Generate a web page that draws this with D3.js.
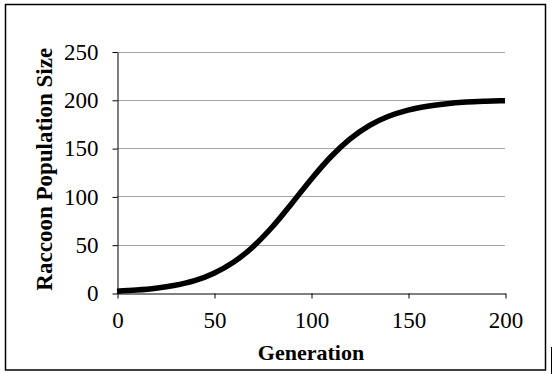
<!DOCTYPE html>
<html>
<head>
<meta charset="utf-8">
<script src="https://cdn.jsdelivr.net/npm/d3@7"></script>
<style>
	body { margin: 0; background: #fff; }
	svg { display: block; }
</style>
</head>
<body>
<div id="container"></div>
<script>
	var WIDTH = 553;
	var HEIGHT = 374;

	// generation (x) and raccoon population size (y)
	var generations = [0, 10, 20, 30, 40, 50, 60, 70, 80, 90, 100,
		110, 120, 130, 140, 150, 160, 170, 180, 190, 200];
	var population = [1.8, 3, 4.9, 8, 12.8, 20.5, 31.8, 47.7, 68.3, 92.5, 117.6,
		140.5, 159.2, 173.3, 182.9, 189.4, 193.4, 196, 197.6, 198.5, 199.1];

	var xTicks = [0, 50, 100, 150, 200];
	var yTicks = [0, 50, 100, 150, 200, 250];

	// plot area (window.top is taken, so no "top" here)
	var plotLeft = 117, plotRight = 505, plotTop = 51.5, plotBottom = 293;

	var svg = d3.select('#container')
		.append('svg')
		.attr('width', WIDTH)
		.attr('height', HEIGHT);

	// outer frame
	svg.append('rect')
		.attr('x', 5.5).attr('y', 4.5)
		.attr('width', 540).attr('height', 365.5)
		.style('fill', 'none')
		.style('stroke', '#000')
		.style('stroke-width', 1.5);
	svg.append('line')
		.attr('x1', 551.5).attr('x2', 551.5)
		.attr('y1', 347).attr('y2', 374)
		.style('stroke', '#000')
		.style('stroke-width', 1);

	var x = d3.scaleLinear().domain([0, 200]).range([plotLeft, plotRight]);
	var y = d3.scaleLinear().domain([0, 250]).range([plotBottom, plotTop]);

	// gridlines
	svg.append('g').selectAll('line')
		.data(yTicks.slice(1))
		.enter().append('line')
		.attr('x1', plotLeft).attr('x2', plotRight)
		.attr('y1', function(d){ return Math.round(y(d)) + 0.5; })
		.attr('y2', function(d){ return Math.round(y(d)) + 0.5; })
		.style('stroke', '#a6a6a6')
		.style('stroke-width', 1);

	svg.append('g')
		.attr('transform', 'translate(' + (plotLeft + 0.5) + ',0.5)')
		.call(d3.axisLeft(y).tickValues(yTicks).tickSize(5).tickSizeOuter(0).tickPadding(14));

	svg.append('g')
		.attr('transform', 'translate(0.5,' + (plotBottom + 0.5) + ')')
		.call(d3.axisBottom(x).tickValues(xTicks).tickSize(5).tickSizeOuter(0).tickPadding(13));

	svg.selectAll('.domain, .tick line')
		.style('stroke', '#000')
		.style('stroke-width', 1);
	svg.selectAll('.tick text')
		.style('font-family', '"Liberation Serif", "Times New Roman", serif')
		.style('font-size', '23px')
		.style('fill', '#000');

	// the curve
	var line = d3.line()
		.x(function(d, i){ return x(generations[i]); })
		.y(function(d){ return y(d); })
		.curve(d3.curveMonotoneX);

	svg.append('path')
		.datum(population)
		.attr('d', line)
		.style('fill', 'none')
		.style('stroke', '#000')
		.style('stroke-width', 5.5)
		.style('stroke-linejoin', 'round');

	// axis titles
	svg.append('text')
		.text('Generation')
		.attr('x', (plotLeft + plotRight) / 2)
		.attr('y', 360)
		.attr('text-anchor', 'middle')
		.style('font-family', '"Liberation Serif", "Times New Roman", serif')
		.style('font-weight', 'bold')
		.style('font-size', '22px');

	svg.append('text')
		.text('Raccoon Population Size')
		.attr('transform', 'translate(52,' + ((plotTop + plotBottom) / 2 - 3) + ') rotate(-90)')
		.attr('text-anchor', 'middle')
		.style('font-family', '"Liberation Serif", "Times New Roman", serif')
		.style('font-weight', 'bold')
		.style('font-size', '23px');
</script>
</body>
</html>
